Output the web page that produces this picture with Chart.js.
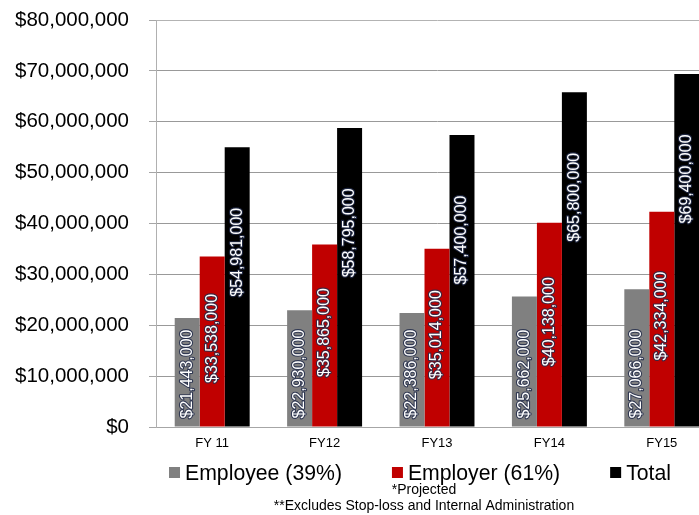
<!DOCTYPE html>
<html>
<head>
<meta charset="utf-8">
<script src="https://cdn.jsdelivr.net/npm/chart.js@4/dist/chart.umd.min.js"></script>
<style>
  html, body { margin: 0; padding: 0; background: #fff; overflow: hidden; width: 699px; height: 515px; }
  #wrap { width: 740px; height: 515px; position: relative; }
</style>
</head>
<body>
<div id="wrap"><canvas id="c" width="740" height="515"></canvas></div>
<script>
// Fiscal years on the category axis
const categories = ['FY 11', 'FY12', 'FY13', 'FY14', 'FY15'];

// Contributions per fiscal year (USD)
const employee = [21443000, 22930000, 22386000, 25662000, 27066000];
const employer = [33538000, 35865000, 35014000, 40138000, 42334000];
const total    = [54981000, 58795000, 57400000, 65800000, 69400000];

const seriesNames = ['Employee (39%)', 'Employer (61%)', 'Total'];
const footnotes = ['*Projected', '**Excludes Stop-loss and Internal Administration'];

const FONT = "'Liberation Sans', Arial, sans-serif";
const money = v => '$' + Math.round(v).toLocaleString('en-US');

// Rotated white value labels inside each bar
const barLabels = {
  id: 'barLabels',
  afterDatasetsDraw(chart) {
    const ctx = chart.ctx;
    ctx.save();
    ctx.font = '16px ' + FONT;
    ctx.textAlign = 'center';
    ctx.textBaseline = 'middle';
    ctx.lineJoin = 'round';
    chart.data.datasets.forEach((ds, di) => {
      const meta = chart.getDatasetMeta(di);
      meta.data.forEach((bar, i) => {
        const text = money(ds.data[i]);
        const w = ctx.measureText(text).width;
        let cy;
        if (ds.labelAnchor === 'start') cy = bar.base - 8 - w / 2;
        else if (ds.labelAnchor === 'top') cy = bar.y + 105;
        else cy = (bar.y + bar.base) / 2 - 3;
        ctx.save();
        ctx.translate(bar.x, cy);
        ctx.rotate(-Math.PI / 2);
        ctx.strokeStyle = 'rgba(35,45,75,0.85)';
        ctx.lineWidth = 2.2;
        ctx.strokeText(text, 0, 0);
        ctx.fillStyle = '#ffffff';
        ctx.fillText(text, 0, 0);
        ctx.restore();
      });
    });
    ctx.restore();
  }
};

// Legend row and footnotes beneath the axis
const bottomText = {
  id: 'bottomText',
  afterDraw(chart) {
    const ctx = chart.ctx;
    ctx.save();
    ctx.fillStyle = '#000';
    ctx.textBaseline = 'alphabetic';
    ctx.textAlign = 'left';
    ctx.font = '22px ' + FONT;
    const squeeze = 0.965, box = 11, gap = 5, spacing = 50;
    const items = chart.data.datasets.map(ds => {
      const tw = ctx.measureText(ds.label).width * squeeze;
      return { ds, tw, w: box + gap + tw };
    });
    const totalW = items.reduce((s, it) => s + it.w, 0) + spacing * (items.length - 1);
    let x = 420 - totalW / 2;
    const baseline = 480;
    items.forEach(it => {
      ctx.fillStyle = it.ds.backgroundColor;
      ctx.fillRect(x, baseline - 13, box, box);
      ctx.fillStyle = '#000';
      ctx.fillText(it.ds.label, x + box + gap, baseline, it.tw);
      x += it.w + spacing;
    });
    ctx.font = '14px ' + FONT;
    ctx.textAlign = 'center';
    ctx.fillText(footnotes[0], 424, 494);
    ctx.fillText(footnotes[1], 424, 510, 302);
    ctx.restore();
  }
};

new Chart(document.getElementById('c'), {
  type: 'bar',
  data: {
    labels: categories,
    datasets: [
      { label: seriesNames[0], data: employee, backgroundColor: '#808080', labelAnchor: 'start' },
      { label: seriesNames[1], data: employer, backgroundColor: '#c00000', labelAnchor: 'center' },
      { label: seriesNames[2], data: total,    backgroundColor: '#000000', labelAnchor: 'top' }
    ]
  },
  options: {
    responsive: false,
    animation: false,
    devicePixelRatio: 1,
    layout: { padding: { top: 20, right: 22, left: 0, bottom: 0 } },
    datasets: { bar: { categoryPercentage: 0.667, barPercentage: 1.0 } },
    plugins: {
      legend: { display: false },
      tooltip: { enabled: false }
    },
    scales: {
      x: {
        grid: { display: false },
        border: { display: true, color: '#a6a6a6' },
        ticks: { color: '#000', font: { family: FONT, size: 13 }, padding: 1 },
        afterFit(scale) { scale.height = 88; }
      },
      y: {
        min: 0,
        max: 80000000,
        ticks: {
          stepSize: 10000000,
          color: '#000',
          font: { family: FONT, size: 20.5 },
          padding: 20,
          callback: v => money(v)
        },
        grid: {
          color: ctx => (ctx.tick && ctx.tick.value === 80000000) ? '#b3b3b3' : '#999999',
          tickColor: '#a6a6a6',
          tickLength: 7,
          drawTicks: true
        },
        border: { display: true, color: '#b0b0b0' },
        afterFit(scale) {
          scale.width = 156;
          scale.paddingTop = 0;
          scale.paddingBottom = 0;
        }
      }
    }
  },
  plugins: [barLabels, bottomText]
});
</script>
</body>
</html>
